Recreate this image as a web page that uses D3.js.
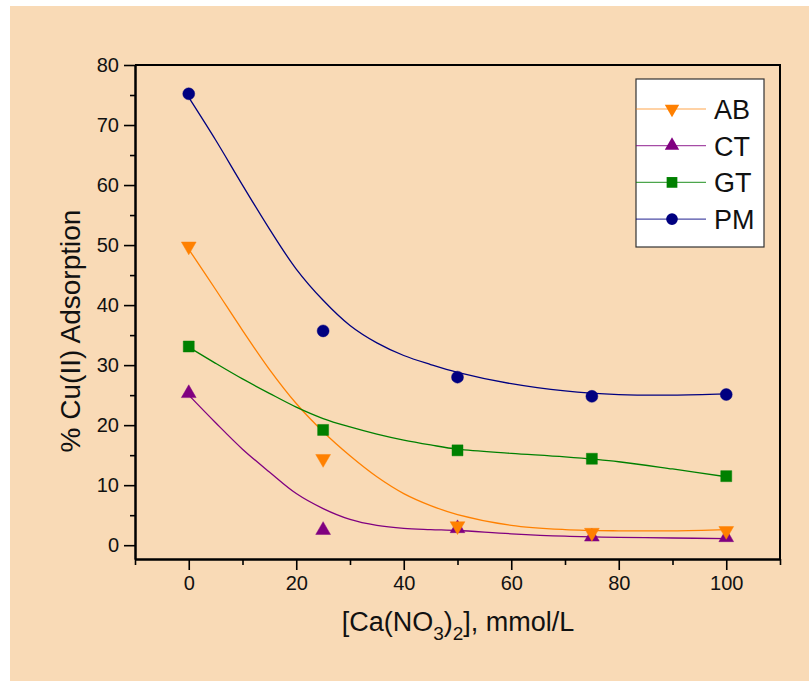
<!DOCTYPE html>
<html>
<head>
<meta charset="utf-8">
<script src="https://cdn.jsdelivr.net/npm/d3@7"></script>
<style>
  body { margin: 0; background: #fff; }
  text { font-family: "Liberation Sans", Arial, sans-serif; fill: #111; }
  .axis path, .axis line { stroke: #000; }
</style>
</head>
<body>
<div id="chart"></div>
<script>
// measured points
var xVals = [0, 25, 50, 75, 100];
var abVals = [49.8, 14.4, 3.2, 2.1, 2.4];
var ctVals = [25.3, 2.5, 2.8, 1.4, 1.3];
var gtVals = [33.1, 19.2, 15.8, 14.4, 11.5];
var pmVals = [75.2, 35.7, 28.0, 24.8, 25.1];

// fitted curves
var fitX = [0, 5, 10, 15, 20, 25, 30, 35, 40, 45, 50, 60, 70, 80, 90, 100];
var abFit = [49.3, 42.6, 35.8, 29.3, 23.6, 18.9, 14.9, 11.4, 8.6, 6.6, 5.1, 3.3, 2.6, 2.4, 2.4, 2.6];
var ctFit = [25.0, 20.4, 16.0, 12.2, 8.6, 6.1, 4.3, 3.3, 2.8, 2.6, 2.45, 1.9, 1.5, 1.3, 1.2, 1.1];
var gtFit = [33.0, 30.3, 27.7, 25.3, 23.0, 21.1, 19.7, 18.5, 17.5, 16.7, 16.0, 15.3, 14.7, 13.9, 12.7, 11.4];
var pmFit = [74.6, 67.5, 60.0, 52.7, 46.0, 40.8, 36.6, 33.7, 31.6, 30.1, 28.8, 26.9, 25.7, 25.1, 25.0, 25.2];

var seriesNames = ["AB", "CT", "GT", "PM"];
var xMajor = [0, 20, 40, 60, 80, 100];
var xMinor = [-10, 10, 30, 50, 70, 90, 110];
var yMajor = [0, 10, 20, 30, 40, 50, 60, 70, 80];
var yMinor = [5, 15, 25, 35, 45, 55, 65, 75];

var series = [
  { name: "AB", vals: abVals, fit: abFit, color: "#ff8000", shape: d3.symbolTriangle, size: 95, rot: 180 },
  { name: "CT", vals: ctVals, fit: ctFit, color: "#800080", shape: d3.symbolTriangle, size: 95, rot: 0 },
  { name: "GT", vals: gtVals, fit: gtFit, color: "#008000", shape: d3.symbolSquare, size: 121, rot: 0 },
  { name: "PM", vals: pmVals, fit: pmFit, color: "#000080", shape: d3.symbolCircle, size: 113, rot: 0 }
];

var W = 809, H = 681;
var margin = { top: 65, right: 29, bottom: 122, left: 135 },
  width = W - margin.left - margin.right,
  height = H - margin.top - margin.bottom;

var root = d3.select("#chart").append("svg")
  .attr("width", W)
  .attr("height", H);

root.append("rect")
  .attr("x", 10).attr("y", 6)
  .attr("width", W - 10).attr("height", H - 6)
  .attr("fill", "#f9dab6");

var svg = root.append("g")
  .attr("transform", "translate(" + margin.left + "," + margin.top + ")");

var x = d3.scaleLinear().domain([-10, 110]).range([0, width]);
var y = d3.scaleLinear().domain([-2.3, 80]).range([height, 0]);

// frame top/right
svg.append("path")
  .attr("d", "M0,0H" + width + "V" + height)
  .attr("fill", "none").attr("stroke", "#000").attr("stroke-width", 2);

var xAxis = d3.axisBottom(x).tickValues(xMajor).tickSize(11).tickSizeOuter(0).tickPadding(6);
var xAxisMinor = d3.axisBottom(x).tickValues(xMinor).tickSize(6).tickSizeOuter(0).tickFormat("");
var yAxis = d3.axisLeft(y).tickValues(yMajor).tickSize(11).tickSizeOuter(0).tickPadding(5);
var yAxisMinor = d3.axisLeft(y).tickValues(yMinor).tickSize(5).tickSizeOuter(0).tickFormat("");

svg.append("g").attr("class", "x axis minor")
  .attr("transform", "translate(0," + height + ")").call(xAxisMinor);
var gx = svg.append("g").attr("class", "x axis")
  .attr("transform", "translate(0," + height + ")").call(xAxis);
svg.append("g").attr("class", "y axis minor").call(yAxisMinor);
var gy = svg.append("g").attr("class", "y axis").call(yAxis);

svg.selectAll(".axis path").attr("stroke-width", 2);
svg.selectAll(".axis line").attr("stroke-width", 1.6);
svg.selectAll(".axis text")
  .attr("font-size", 20)
  .style("font-family", "'Liberation Sans', Arial, sans-serif")
  .attr("fill", "#111");
gx.selectAll("text").attr("dy", "0.71em");

// fitted lines
var line = d3.line()
  .x(function (d) { return x(d[0]); })
  .y(function (d) { return y(d[1]); })
  .curve(d3.curveCatmullRom.alpha(0.5));

series.forEach(function (s) {
  var pts = fitX.map(function (v, i) { return [v, s.fit[i]]; });
  svg.append("path")
    .attr("d", line(pts))
    .attr("fill", "none")
    .attr("stroke", s.color)
    .attr("stroke-width", 1.3);
});

// markers
series.slice().reverse().forEach(function (s) {
  svg.selectAll(null)
    .data(xVals.map(function (v, i) { return [v, s.vals[i]]; }))
    .enter().append("path")
    .attr("d", d3.symbol().type(s.shape).size(s.size))
    .attr("transform", function (d) {
      return "translate(" + x(d[0]) + "," + y(d[1]) + ") rotate(" + s.rot + ")";
    })
    .attr("fill", s.color)
    .attr("stroke", s.color)
    .attr("stroke-opacity", 0.45)
    .attr("stroke-width", 1);
});

// legend
var lg = root.append("g").attr("transform", "translate(636,79)");
lg.append("rect")
  .attr("width", 128).attr("height", 168)
  .attr("fill", "#fff").attr("stroke", "#333").attr("stroke-width", 1.2);

series.forEach(function (s, i) {
  var cy = 30 + i * 36.7;
  lg.append("line")
    .attr("x1", 0).attr("x2", 70).attr("y1", cy).attr("y2", cy)
    .attr("stroke", s.color).attr("stroke-opacity", 0.7).attr("stroke-width", 1.2);
  lg.append("path")
    .attr("d", d3.symbol().type(s.shape).size(s.size * 0.95))
    .attr("transform", "translate(36," + cy + ") rotate(" + s.rot + ")")
    .attr("fill", s.color);
  lg.append("text")
    .attr("x", 78).attr("y", cy + 10)
    .attr("font-size", 27)
    .text(seriesNames[i]);
});

// axis titles
var xt = root.append("text")
  .attr("x", 458).attr("y", 631)
  .attr("text-anchor", "middle")
  .attr("font-size", 27);
xt.append("tspan").text("[Ca(NO");
xt.append("tspan").attr("font-size", 19).attr("dy", 9).text("3");
xt.append("tspan").attr("dy", -9).text(")");
xt.append("tspan").attr("font-size", 19).attr("dy", 9).text("2");
xt.append("tspan").attr("dy", -9).text("], mmol/L");

root.append("text")
  .attr("transform", "translate(80,331) rotate(-90)")
  .attr("text-anchor", "middle")
  .attr("font-size", 28)
  .text("% Cu(II) Adsorption");
</script>
</body>
</html>
